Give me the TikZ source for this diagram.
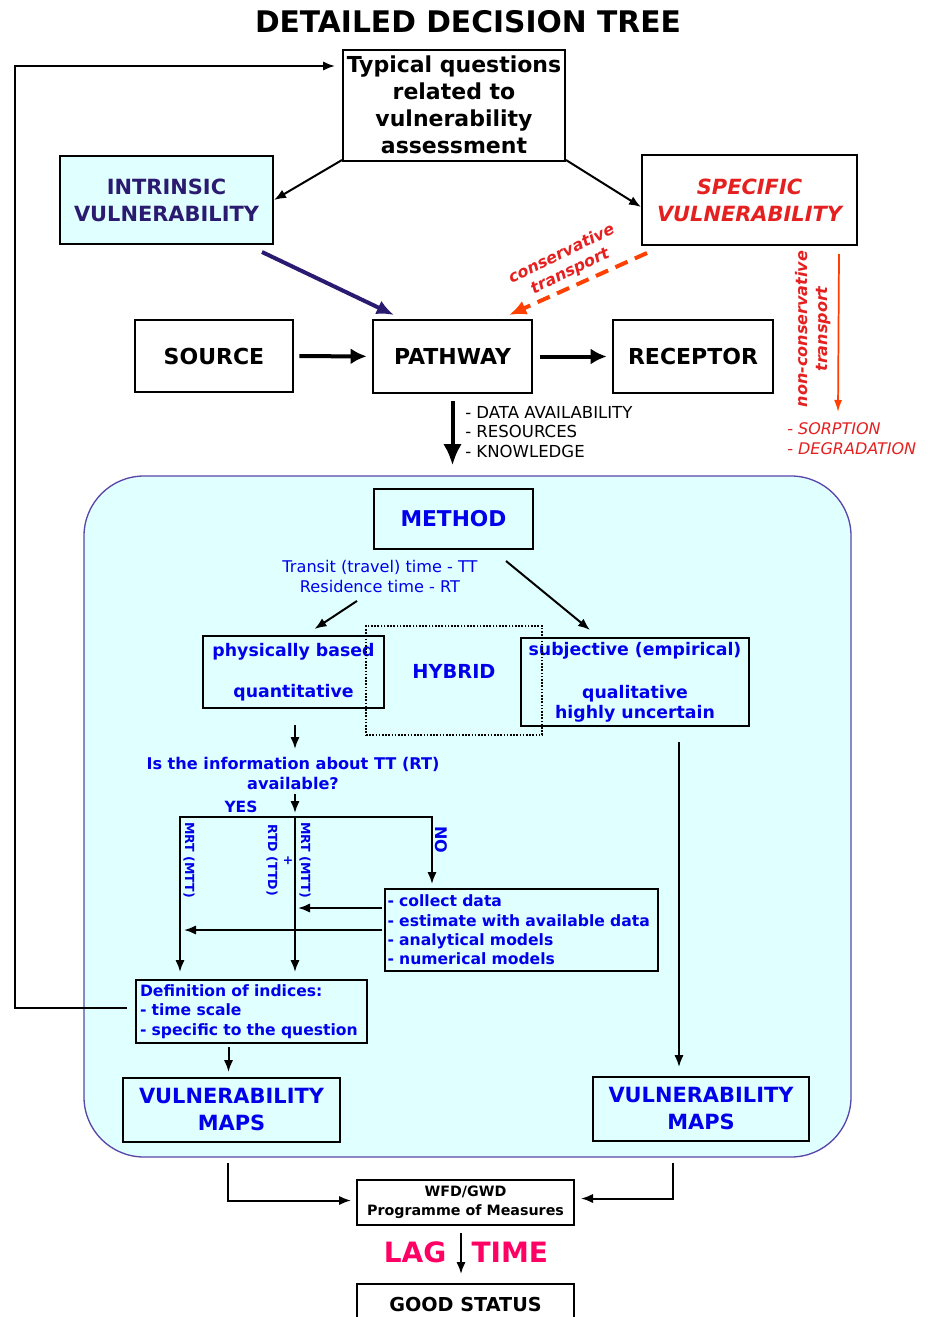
\documentclass[tikz,border=0pt]{standalone}
\usepackage{fontspec}
\setmainfont{DejaVu Sans}
\usetikzlibrary{arrows.meta,calc}
\definecolor{navy}{RGB}{43,27,112}
\definecolor{specred}{RGB}{228,32,32}
\definecolor{consred}{RGB}{255,64,0}
\definecolor{methblue}{RGB}{0,0,235}
\definecolor{icecyan}{RGB}{224,255,255}
\definecolor{areaedge}{RGB}{90,70,170}
\definecolor{lagpink}{RGB}{255,0,100}
\begin{document}
\begin{tikzpicture}[x=0.75pt,y=-0.75pt,
	box/.style 2 args={draw,line width=1.5pt,inner sep=0pt,minimum width=#1*0.75pt,minimum height=#2*0.75pt,align=center},
	arr/.style={line width=1.5pt,-{Latex[length=9pt,width=7pt]}},
	fatarr/.style={line width=3pt,-{Latex[length=12pt,width=12pt]}},
	blk/.style={font=\bfseries\fontsize{16.5}{20.25}\selectfont},
	big/.style={font=\bfseries\fontsize{15.7}{20.25}\selectfont},
	blu/.style={text=methblue,font=\bfseries\fontsize{11.7}{14.5}\selectfont},
	mid/.style={text=methblue,font=\bfseries\fontsize{13}{15}\selectfont},
	vert/.style={text=methblue,font=\bfseries\fontsize{9.4}{11}\selectfont,rotate=-90}]
		\useasboundingbox (0,0) rectangle (935,1317);
		
		\node[font=\bfseries\fontsize{22.3}{26}\selectfont] (title) at (468,22) {DETAILED DECISION TREE};
		
		% top of the tree
		\node[box={222}{111},blk] (typ) at (454,105) {Typical questions\\related to\\vulnerability\\assessment};
		\node[box={213}{88},big,fill=icecyan,text=navy] (intr) at (166.5,200) {INTRINSIC\\VULNERABILITY};
		\node[box={215}{90},big,text=specred,font=\bfseries\itshape\fontsize{15.7}{20.25}\selectfont] (spec) at (749.5,200) {SPECIFIC\\VULNERABILITY};
		
		\node[box={158}{72},blk] (src) at (214,356) {SOURCE};
		\node[box={159}{73},blk] (path) at (452.5,356.5) {PATHWAY};
		\node[box={160}{73},blk] (rec) at (693,356.5) {RECEPTOR};
		
		\draw[arr] ($(typ.south west)+(0,-1.5)$) -- (intr.east);
		\draw[arr] ($(typ.south east)+(0,-1.5)$) -- ($(spec.west)+(0,7)$);
		\draw[navy,line width=3pt,-{Latex[length=13pt,width=11pt]}] ($(intr.south east)+(-12,7)$) -- ($(path.north west)+(22,-4)$);
		\draw[consred,line width=3pt,dash pattern=on 10pt off 6pt,-{Latex[length=13pt,width=11pt]}] ($(spec.south west)+(6,7)$) -- ($(path.north east)+(-24,-4)$);
		\node[text=specred,font=\bfseries\itshape\fontsize{12}{14.5}\selectfont,rotate=26,align=center,inner sep=0pt] (cons) at (566,263) {conservative\\transport};
		
		\coordinate (sorpt) at (838,412);
		\draw[consred,line width=1.3pt,-{Latex[length=9pt,width=6pt]}] ($(spec.south east)+(-19,8)$) -- (sorpt);
		\node[text=specred,font=\bfseries\itshape\fontsize{12}{15}\selectfont,rotate=90,align=center] (ncons) at (813,329) {non-conservative\\transport};
		\node[text=specred,font=\itshape\fontsize{12}{15}\selectfont,align=left,anchor=west,inner sep=0pt] (sorp) at (787,439) {- SORPTION\\- DEGRADATION};
		
		\draw[fatarr,shorten <=4pt,shorten >=4pt] (src) -- (path);
		\draw[fatarr,shorten <=5pt,shorten >=4pt] (path) -- (rec);
		
		\node[font=\fontsize{12.4}{14.6}\selectfont,align=left,anchor=west,inner sep=0pt] (needs) at (465,432) {- DATA AVAILABILITY\\- RESOURCES\\- KNOWLEDGE};
		
		% method area
		\node[draw=areaedge,line width=1pt,fill=icecyan,rounded corners=45pt,minimum width=767*0.75pt,minimum height=681*0.75pt] (area) at (467.5,816.5) {};
		\draw[line width=3pt,-{Latex[length=16pt,width=14pt]}] ($(path.south)+(0,7)$) -- ($(path.south |- area.north)+(0,-10)$);
		
		\node[box={159}{60},text=methblue,font=\bfseries\fontsize{16.3}{20}\selectfont] (meth) at (453.5,519) {METHOD};
		\node[text=methblue,font=\fontsize{12.1}{15}\selectfont,align=center] (trans) at (380,576) {Transit (travel) time - TT\\Residence time - RT};
		\node[box={181}{72},mid] (phys) at (293.5,672) {physically based\\[15.5pt]quantitative};
		\node[box={228}{88},mid] (subj) at (635,682) {subjective (empirical)\\[17pt]qualitative\\highly uncertain};
		\node[draw,line width=1.2pt,dash pattern=on 1.2pt off 1.2pt,minimum width=176*0.75pt,minimum height=109*0.75pt] (hyb) at (454,680.5) {};
		\node[text=methblue,font=\bfseries\fontsize{14.5}{17}\selectfont] (hybt) at (454,671) {HYBRID};
		
		\draw[arr] ($(trans.south)+(-23,4)$) -- ($(phys.north)+(21,-6)$);
		\draw[arr] ($(meth.south east)+(-28,11)$) -- ($(subj.north)+(-45,-7)$);
		
		\node[blu,font=\bfseries\fontsize{12.1}{15}\selectfont,align=center] (quest) at (293,773) {Is the information about TT (RT)\\available?};
		\draw[arr] ($(phys.south)+(1.5,16)$) -- ($(phys.south)+(1.5,40)$);
		
		\coordinate (yl) at (180,817);
		\coordinate (ym) at (295,817);
		\coordinate (yr) at (432,817);
		
		\node[box={273}{82},blu,text width=268*0.75pt,align=left] (data) at (521.5,930) {- collect data\\- estimate with available data\\- analytical models\\- numerical models};
		\node[box={231}{63},blu,text width=223*0.75pt,align=left] (def) at (251.5,1011.5) {Definition of indices:\\- time scale\\- specific to the question};
		
		\draw[arr] (quest.south -| ym) -- ($(ym)+(0,-4)$);
		\draw[arr] (ym) -- (yl) -- ($(yl |- def.north)+(0,-7)$);
		\draw[arr] (ym) -- (yr) -- ($(yr |- data.north)+(0,-4)$);
		\draw[arr] (ym) -- ($(ym |- def.north)+(0,-7)$);
		
		\node[blu,font=\bfseries\fontsize{11.6}{14}\selectfont] (yes) at (241,807) {YES};
		\node[vert,font=\bfseries\fontsize{12}{14}\selectfont] (no) at (441,840) {NO};
		\node[vert] (mrta) at (189,860) {MRT (MTT)};
		\node[vert] (rtd) at (272,860) {RTD (TTD)};
		\node[vert] (plus) at (288,861) {+};
		\node[vert] (mrtb) at (305,860) {MRT (MTT)};
		
		\draw[arr] ($(data.west)+(-2,-22)$) -- ($(ym |- data.west)+(3,-22)$);
		\draw[arr] ($(data.west)+(-2,0)$) -- ($(yl |- data.west)+(4,0)$);
		
		% back to the questions
		\coordinate (fbtop) at (15,66);
		\draw[arr] ($(def.west)+(-8,-3.5)$) -| (fbtop) -- ($(typ.west |- fbtop)+(-7,0)$);
		
		\node[box={217}{64},big,text=methblue] (vma) at (231.5,1110) {VULNERABILITY\\MAPS};
		\node[box={216}{64},big,text=methblue] (vmb) at (701,1109) {VULNERABILITY\\MAPS};
		\draw[arr] ($(def.south -| vma.north)+(-3,3)$) -- ($(vma.north)+(-3,-5)$);
		\draw[arr] ($(subj.south)+(44,15)$) -- ($(subj.south |- vmb.north)+(44,-9)$);
		
		% measures
		\node[box={217}{45},font=\bfseries\fontsize{10.7}{14.25}\selectfont] (wfd) at (465.5,1202.5) {WFD/GWD\\Programme of Measures};
		\node[box={217}{40},font=\bfseries\fontsize{14.4}{17}\selectfont] (good) at (465.5,1304) {GOOD STATUS};
		\draw[arr] ($(vma.south)+(-3.5,20)$) |- ($(wfd.west)+(-5,-2)$);
		\draw[arr] ($(vmb.south)+(-28,21)$) |- ($(wfd.east)+(6,-4)$);
		\draw[arr] ($(wfd.south)+(-4.5,7)$) -- ($(good.north)+(-4.5,-9)$);
		\node[text=lagpink,font=\bfseries\fontsize{21}{24}\selectfont,anchor=east,inner sep=1pt] (lag) at (448,1252) {LAG};
		\node[text=lagpink,font=\bfseries\fontsize{21}{24}\selectfont,anchor=west,inner sep=1pt] (time) at (470,1252) {TIME};
\end{tikzpicture}
\end{document}
